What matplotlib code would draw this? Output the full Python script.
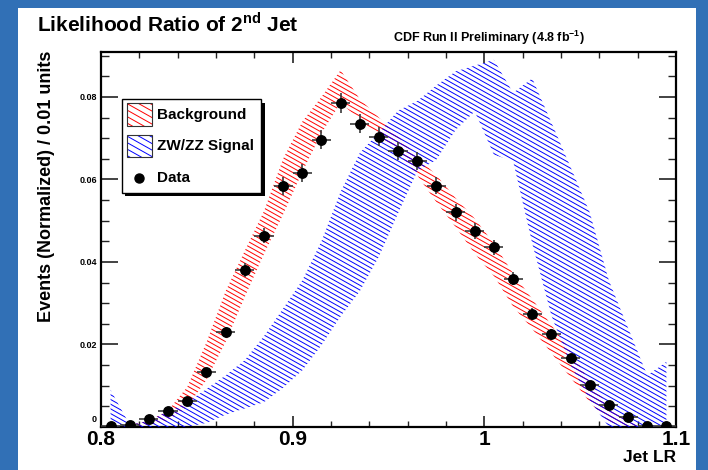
import numpy as np
import matplotlib
matplotlib.use("Agg")
import matplotlib.pyplot as plt
from matplotlib.patches import Polygon, Rectangle
from matplotlib.collections import LineCollection
from matplotlib.ticker import MultipleLocator
from matplotlib.transforms import ScaledTranslation

plt.rcParams['font.family'] = ['Liberation Sans', 'DejaVu Sans']
plt.rcParams['font.weight'] = 'bold'
plt.rcParams['mathtext.fontset'] = 'custom'
plt.rcParams['mathtext.rm'] = 'Liberation Sans:bold'
plt.rcParams['mathtext.bf'] = 'Liberation Sans:bold'

# bin centres (bin width 0.01)
bin_x = [0.805, 0.815, 0.825, 0.835, 0.845, 0.855, 0.865, 0.875, 0.885, 0.895,
         0.905, 0.915, 0.925, 0.935, 0.945, 0.955, 0.965, 0.975, 0.985, 0.995,
         1.005, 1.015, 1.025, 1.035, 1.045, 1.055, 1.065, 1.075, 1.085, 1.095]

data_y = [0.0002, 0.0006, 0.0020, 0.0039, 0.0062, 0.0134, 0.0230, 0.0380, 0.0464, 0.0584,
          0.0616, 0.0696, 0.0785, 0.0735, 0.0704, 0.0670, 0.0645, 0.0585, 0.0520, 0.0475,
          0.0436, 0.0359, 0.0274, 0.0225, 0.0167, 0.0102, 0.0053, 0.0024, 0.0003, 0.0002]
data_err = [0.0001, 0.0002, 0.0004, 0.0005, 0.0007, 0.0010, 0.0013, 0.0017, 0.0018, 0.0021,
            0.0021, 0.0023, 0.0024, 0.0023, 0.0023, 0.0022, 0.0022, 0.0021, 0.0020, 0.0019,
            0.0018, 0.0016, 0.0014, 0.0013, 0.0011, 0.0009, 0.0006, 0.0004, 0.0002, 0.0001]

bg_lo = [0.0, 0.0, 0.0005, 0.0015, 0.0049, 0.0114, 0.0206, 0.0315, 0.0419, 0.0515,
         0.0618, 0.0712, 0.0786, 0.0745, 0.0705, 0.0665, 0.0610, 0.0545, 0.0485, 0.0420,
         0.0366, 0.0292, 0.0238, 0.0179, 0.0120, 0.0060, 0.0012, 0.0, 0.0, 0.0]
bg_hi = [0.0, 0.0005, 0.0015, 0.0040, 0.0097, 0.0205, 0.0329, 0.0427, 0.0523, 0.0650,
         0.0740, 0.0800, 0.0865, 0.0795, 0.0750, 0.0705, 0.0655, 0.0610, 0.0555, 0.0505,
         0.0445, 0.0372, 0.0310, 0.0247, 0.0185, 0.0110, 0.0050, 0.0012, 0.0, 0.0]

sig_lo = [0.0, 0.0, 0.0, 0.0, 0.0, 0.0010, 0.0030, 0.0045, 0.0060, 0.0095,
          0.0137, 0.0198, 0.0268, 0.0329, 0.0413, 0.0518, 0.0620, 0.0648, 0.0720, 0.0765,
          0.0660, 0.0645, 0.0445, 0.0270, 0.0150, 0.0065, 0.0, 0.0, 0.0, 0.0]
sig_hi = [0.0090, 0.0005, 0.0015, 0.0038, 0.0060, 0.0092, 0.0125, 0.0162, 0.0220, 0.0287,
          0.0355, 0.0450, 0.0570, 0.0664, 0.0714, 0.0767, 0.0790, 0.0828, 0.0862, 0.0876,
          0.0890, 0.0810, 0.0845, 0.0738, 0.0630, 0.0520, 0.0355, 0.0240, 0.0125, 0.0158]

xtick_vals = [0.8, 0.9, 1.0, 1.1]
xtick_labels = ['0.8', '0.9', '1', '1.1']
ytick_vals = [0, 0.02, 0.04, 0.06, 0.08]
ytick_labels = ['0', '0.02', '0.04', '0.06', '0.08']

W, H = 708, 470
fig = plt.figure(figsize=(W / 100, H / 100), dpi=100, facecolor='#3170b6')
fig.patches.append(Rectangle((18 / W, 0), (696 - 18) / W, (H - 8) / H,
                             transform=fig.transFigure, facecolor='white',
                             edgecolor='none', zorder=-1))

ax_l, ax_r, ax_t, ax_b = 101, 676, 52, 427
ax = fig.add_axes([ax_l / W, (H - ax_b) / H, (ax_r - ax_l) / W, (ax_b - ax_t) / H])
axw, axh = ax_r - ax_l, ax_b - ax_t


def px2ax(px, py):
    return (px - ax_l) / axw, (ax_b - py) / axh


def hatch(clip, color, spacing=4.7, slope=0.56, lw=0.7, z=2):
    # ROOT style hatch: parallel lines in pixel space, clipped to a patch
    segs = []
    for c in np.arange(0, axh + slope * axw + spacing, spacing):
        segs.append([(0, c / axh), (1, (c - slope * axw) / axh)])
    lc = LineCollection(segs, colors=color, linewidths=lw, transform=ax.transAxes, zorder=z)
    ax.add_collection(lc)
    lc.set_clip_path(clip)


def band(lo, hi, color, z):
    verts = list(zip(bin_x, hi)) + list(zip(bin_x[::-1], lo[::-1]))
    poly = Polygon(verts, closed=True, facecolor='none', edgecolor='none')
    ax.add_patch(poly)
    hatch(poly, color, z=z)


band(bg_lo, bg_hi, '#ff0000', 2)
band(sig_lo, sig_hi, '#0000ff', 3)

ax.errorbar(bin_x, data_y, yerr=data_err, xerr=0.005, fmt='o', color='black',
            ecolor='#3a3a3a', elinewidth=1.2, ms=6.8, capsize=0, zorder=5)

ax.set_xlim(0.8, 1.1)
ax.set_ylim(0, 0.0909)
ax.set_xticks(xtick_vals, labels=xtick_labels)
ax.set_yticks(ytick_vals, labels=ytick_labels)
ax.xaxis.set_minor_locator(MultipleLocator(0.02))
ax.yaxis.set_minor_locator(MultipleLocator(0.005))
ax.tick_params(which='both', direction='in', top=True, right=True, color='#222222')
ax.tick_params(axis='x', which='major', length=8, width=1.2, labelsize=15, pad=2)
ax.tick_params(axis='x', which='minor', length=4, width=1.0)
ax.tick_params(axis='y', which='major', length=12, width=1.2, labelsize=6.5, pad=3)
ax.tick_params(axis='y', which='minor', length=5.5, width=1.0)
for s in ax.spines.values():
    s.set_linewidth(1.6)

# ROOT puts the "0" label a little above the corner
zero_lbl = ax.get_yticklabels()[0]
zero_lbl.set_transform(zero_lbl.get_transform() +
                       ScaledTranslation(0, 6 / 72, fig.dpi_scale_trans))

# legend drawn by hand (ROOT TLegend look with black shadow)
x0, y1 = px2ax(121.7, 99.3)
x1, y0 = px2ax(261, 192.7)
dx, dy = 3.5 / axw, 3.5 / axh
ax.add_patch(Rectangle((x0 + dx, y0 - dy), x1 - x0, y1 - y0, transform=ax.transAxes,
                       facecolor='black', edgecolor='none', zorder=6))
ax.add_patch(Rectangle((x0, y0), x1 - x0, y1 - y0, transform=ax.transAxes,
                       facecolor='white', edgecolor='black', lw=1.0, zorder=7))

legend_names = ['Background', 'ZW/ZZ Signal', 'Data']
legend_cols = ['#ff0000', '#0000ff', 'black']
legend_rows = [(103.3, 126.0), (135.0, 157.3), (168.0, 187.0)]
for name, col, (t, b) in zip(legend_names, legend_cols, legend_rows):
    sx0, sy1 = px2ax(126.7, t)
    sx1, sy0 = px2ax(151.7, b)
    if name == 'Data':
        ax.plot([(sx0 + sx1) / 2], [(sy0 + sy1) / 2], 'o', color='black', ms=6.5,
                transform=ax.transAxes, zorder=9, clip_on=False)
    else:
        sw = Rectangle((sx0, sy0), sx1 - sx0, sy1 - sy0, transform=ax.transAxes,
                       facecolor='none', edgecolor='#333333', lw=0.8, zorder=9)
        ax.add_patch(sw)
        hatch(sw, col, spacing=6.5, slope=0.56, z=8)
    tx, ty = px2ax(157.3, (t + b) / 2)
    ax.text(tx, ty, name, transform=ax.transAxes, fontsize=11, fontweight='bold',
            va='center', ha='left', zorder=9)

fig.text(37 / W, 1 - 31 / H, r'Likelihood Ratio of 2$^{\mathbf{nd}}$ Jet',
         fontsize=15, fontweight='bold', ha='left', va='baseline')
fig.text(585 / W, 1 - 42 / H, r'CDF Run II Preliminary (4.8 fb$^{\mathbf{-1}}$)',
         fontsize=9, fontweight='bold', ha='right', va='baseline')
fig.text(47 / W, 1 - 186 / H, 'Events (Normalized) / 0.01 units', rotation=90,
         fontsize=13, fontweight='bold', ha='center', va='center')
fig.text(676 / W, 1 - 458 / H, 'Jet LR', fontsize=12.5, fontweight='bold',
         ha='right', va='center')

fig.savefig('out.png', dpi=100, facecolor=fig.get_facecolor())
